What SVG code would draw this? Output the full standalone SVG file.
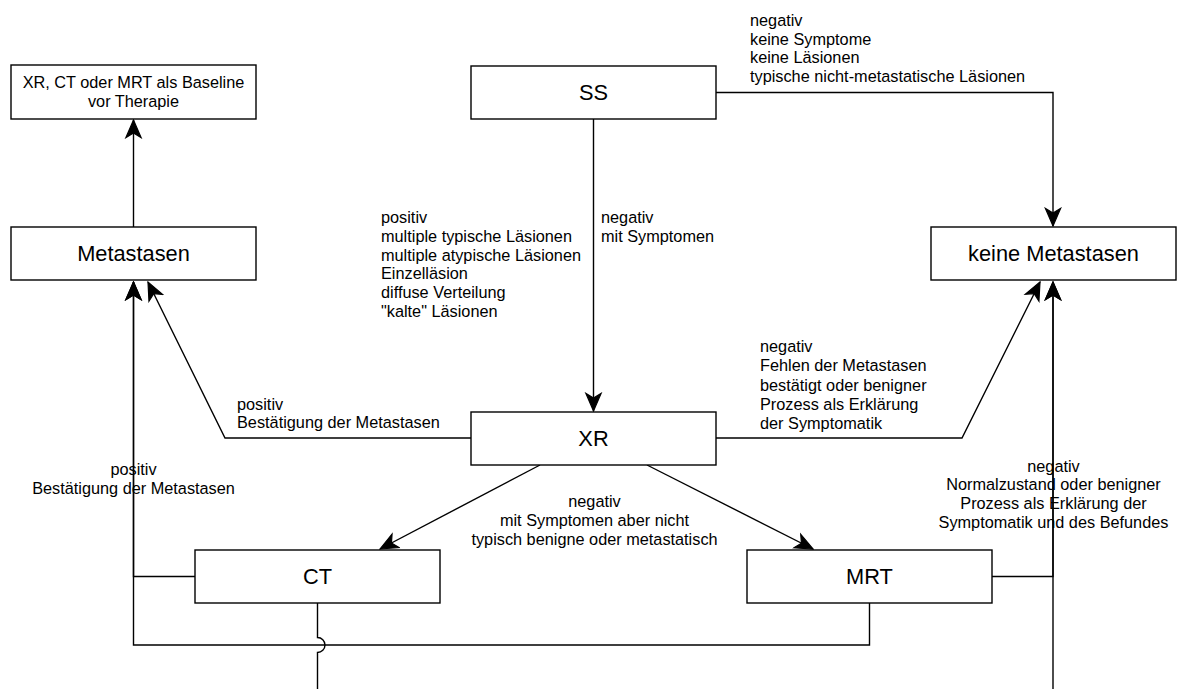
<svg xmlns="http://www.w3.org/2000/svg" width="1180" height="689" viewBox="0 0 1180 689">
<style>
.box{fill:#fff;stroke:#000;stroke-width:1.4}
.big{font-family:"Liberation Sans",Arial,Helvetica,sans-serif;font-size:21.8px;fill:#000;text-anchor:middle}
.lbl{font-family:"Liberation Sans",Arial,Helvetica,sans-serif;font-size:16.3px;fill:#000}
.mid{text-anchor:middle}
.edge{fill:none;stroke:#000;stroke-width:1.4}
.arr{marker-end:url(#ah)}
</style>
<defs>
<marker id="ah" markerUnits="userSpaceOnUse" markerWidth="20" markerHeight="20" viewBox="-16 -8 17 16" refX="0" refY="0" orient="auto">
<path d="M0,0 L-15,-6.5 L-11,0 L-15,6.5 Z" fill="#000" stroke="#000" stroke-width="1"/>
</marker>
</defs>
<rect width="1180" height="689" fill="#fff"/>
<g id="connectors">
<path class="edge arr" d="M133.5,227 V120"/>
<path class="edge arr" d="M716,92.5 H1053 V226"/>
<path class="edge arr" d="M593.5,119 V411"/>
<path class="edge arr" d="M471,438 H225 L148,282"/>
<path class="edge arr" d="M716,438 H962 L1040,282"/>
<path class="edge arr" d="M540,465 L380,549"/>
<path class="edge arr" d="M647,465 L813,549"/>
<path class="edge arr" d="M195,576.5 H133.5 V282"/>
<path class="edge arr" d="M869.5,603 V645 H133.5 V282"/>
<path class="edge" d="M317.5,603 V637.5 A7.5,7.5 0 0 1 317.5,652.5 V690"/>
<path class="edge arr" d="M992,576.5 H1053 V282"/>
<path class="edge arr" d="M1053,690 V282"/>
</g>
<g id="labels">
<text class="lbl" x="750" y="26">negativ</text>
<text class="lbl" x="750" y="44.6">keine Symptome</text>
<text class="lbl" x="750" y="63.2">keine Läsionen</text>
<text class="lbl" x="750" y="81.8">typische nicht-metastatische Läsionen</text>
<text class="lbl" x="381" y="223.3">positiv</text>
<text class="lbl" x="381" y="242">multiple typische Läsionen</text>
<text class="lbl" x="381" y="260.7">multiple atypische Läsionen</text>
<text class="lbl" x="381" y="279.4">Einzelläsion</text>
<text class="lbl" x="381" y="298.1">diffuse Verteilung</text>
<text class="lbl" x="381" y="316.8">"kalte" Läsionen</text>
<text class="lbl" x="601" y="223.3">negativ</text>
<text class="lbl" x="601" y="242.3">mit Symptomen</text>
<text class="lbl" x="237" y="409.5">positiv</text>
<text class="lbl" x="237" y="428.3">Bestätigung der Metastasen</text>
<text class="lbl" x="760" y="352.3">negativ</text>
<text class="lbl" x="760" y="371.4">Fehlen der Metastasen</text>
<text class="lbl" x="760" y="390.5">bestätigt oder benigner</text>
<text class="lbl" x="760" y="409.6">Prozess als Erklärung</text>
<text class="lbl" x="760" y="428.7">der Symptomatik</text>
<text class="lbl mid" x="133.5" y="475">positiv</text>
<text class="lbl mid" x="133.5" y="493.5">Bestätigung der Metastasen</text>
<text class="lbl mid" x="594.5" y="507">negativ</text>
<text class="lbl mid" x="594.5" y="525.8">mit Symptomen aber nicht</text>
<text class="lbl mid" x="594.5" y="544.6">typisch benigne oder metastatisch</text>
<text class="lbl mid" x="1053.5" y="471.5">negativ</text>
<text class="lbl mid" x="1053.5" y="490.2">Normalzustand oder benigner</text>
<text class="lbl mid" x="1053.5" y="508.9">Prozess als Erklärung der</text>
<text class="lbl mid" x="1053.5" y="527.6">Symptomatik und des Befundes</text>
</g>
<g id="baseline">
<rect class="box" x="11" y="65" width="245" height="54"/>
<text class="lbl mid" x="133.5" y="88.3">XR, CT oder MRT als Baseline</text>
<text class="lbl mid" x="133.5" y="106.8">vor Therapie</text>
</g>
<g id="ss">
<rect class="box" x="471" y="66" width="245" height="53"/>
<text class="big" x="593.5" y="100.3">SS</text>
</g>
<g id="metastasen">
<rect class="box" x="11" y="227" width="245" height="53"/>
<text class="big" x="133.5" y="261.3">Metastasen</text>
</g>
<g id="keine-metastasen">
<rect class="box" x="931" y="227" width="245" height="53"/>
<text class="big" x="1053.5" y="261.3">keine Metastasen</text>
</g>
<g id="xr">
<rect class="box" x="471" y="412" width="245" height="53"/>
<text class="big" x="593.5" y="446.3">XR</text>
</g>
<g id="ct">
<rect class="box" x="195" y="550" width="245" height="53"/>
<text class="big" x="317.5" y="584.3">CT</text>
</g>
<g id="mrt">
<rect class="box" x="747" y="550" width="245" height="53"/>
<text class="big" x="869.5" y="584.3">MRT</text>
</g>
</svg>
